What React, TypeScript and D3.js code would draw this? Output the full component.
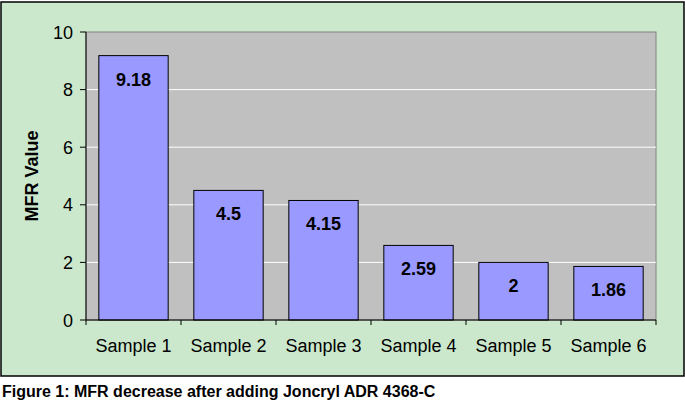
import React from "react";
import * as d3 from "d3";

const categories = ["Sample 1", "Sample 2", "Sample 3", "Sample 4", "Sample 5", "Sample 6"];
const values = [9.18, 4.5, 4.15, 2.59, 2, 1.86];
const valueLabels = ["9.18", "4.5", "4.15", "2.59", "2", "1.86"];
const yTicks = [0, 2, 4, 6, 8, 10];
const yLabel = "MFR Value";
const caption = "Figure 1: MFR decrease after adding Joncryl ADR 4368-C";

export default function App() {
  const W = 685, H = 407;
  const left = 86, right = 656, top = 32, bottom = 320;
  const x = d3.scaleBand<string>().domain(categories).range([left, right]).paddingInner(0.27).paddingOuter(0.135);
  const xb = d3.scaleBand<string>().domain(categories).range([left, right]);
  const y = d3.scaleLinear().domain([0, 10]).range([bottom, top]);
  const font = "Arial, 'Liberation Sans', sans-serif";
  return (
    <svg width={W} height={H} style={{ position: "absolute", left: 0, top: 0 }} fontFamily={font}>
      <rect x={0} y={0} width={W} height={H} fill="#ffffff" />
      <rect x={1} y={2} width={683} height={374} fill="#CCE8CC" stroke="#000" strokeWidth={1.5} />
      <rect x={left} y={top} width={right - left} height={bottom - top} fill="#C0C0C0" stroke="#808080" strokeWidth={1} />
      {yTicks.filter(t => t > 0 && t < 10).map(t => (
        <line key={t} x1={left} x2={right} y1={y(t)} y2={y(t)} stroke="#ffffff" strokeWidth={1} />
      ))}
      {categories.map((c, i) => (
        <g key={c}>
          <rect x={x(c)} y={y(values[i])} width={x.bandwidth()} height={bottom - y(values[i])} fill="#9999FF" stroke="#000" strokeWidth={1} />
          <text x={x(c)! + x.bandwidth() / 2} y={y(values[i]) + 30} textAnchor="middle" fontSize={18} fontWeight="bold" fill="#000">{valueLabels[i]}</text>
          <text x={xb(c)! + xb.bandwidth() / 2} y={352} textAnchor="middle" fontSize={18} fill="#000">{c}</text>
        </g>
      ))}
      <line x1={left} x2={left} y1={top} y2={bottom} stroke="#000" />
      <line x1={left} x2={right} y1={bottom} y2={bottom} stroke="#000" />
      {yTicks.map(t => (
        <g key={t}>
          <line x1={left - 6} x2={left} y1={y(t)} y2={y(t)} stroke="#000" />
          <text x={73} y={y(t) + 6.5} textAnchor="end" fontSize={18} fill="#000">{t}</text>
        </g>
      ))}
      {categories.concat(["end"]).map((c, i) => {
        const px = left + i * xb.step();
        return <line key={i} x1={px} x2={px} y1={bottom} y2={bottom + 5} stroke="#000" />;
      })}
      <text transform={`translate(38,${(top + bottom) / 2}) rotate(-90)`} textAnchor="middle" fontSize={18} fontWeight="bold" fill="#000">{yLabel}</text>
      <text x={2} y={397} fontSize={16} fontWeight="bold" fill="#000">{caption}</text>
    </svg>
  );
}
